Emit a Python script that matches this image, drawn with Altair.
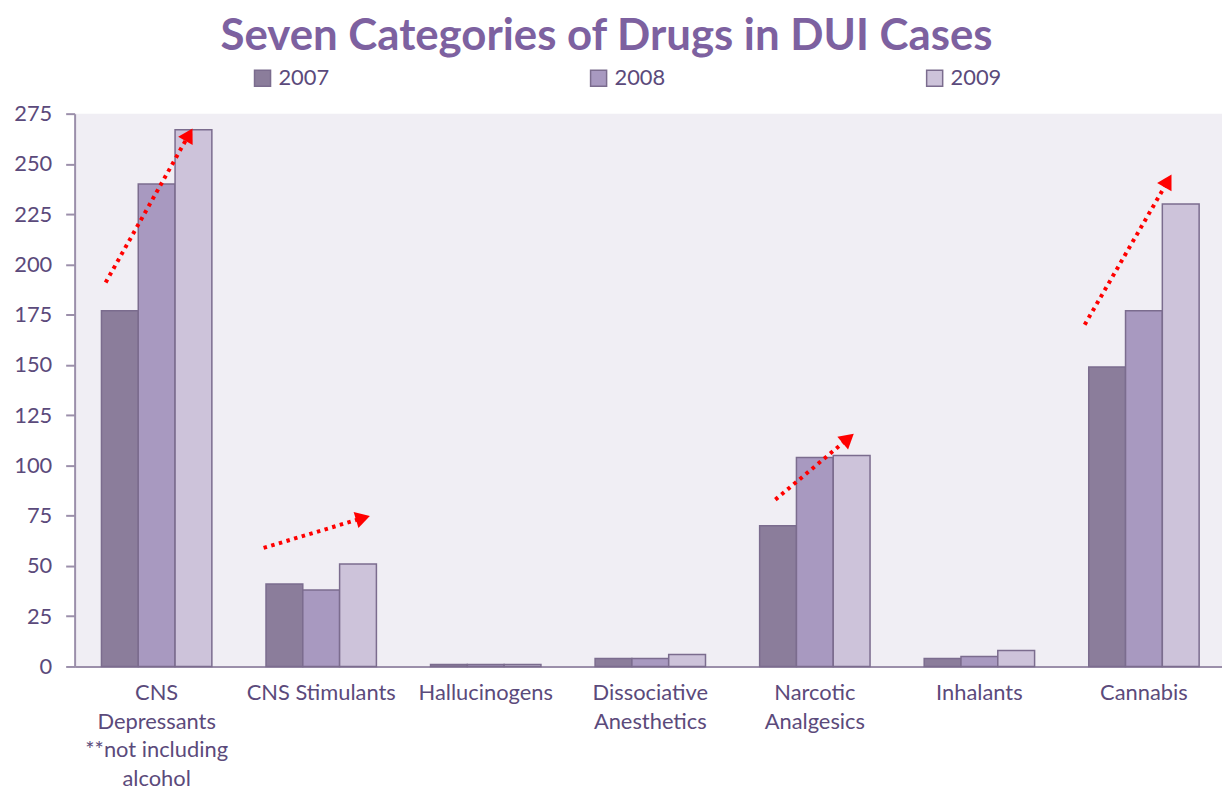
import math
import altair as alt
import pandas as pd

# ---------------- data ----------------
categories = ["CNS|Depressants|**not including|alcohol", "CNS Stimulants", "Hallucinogens",
              "Dissociative|Anesthetics", "Narcotic|Analgesics", "Inhalants", "Cannabis"]
years = ["2007", "2008", "2009"]
v2007 = [177, 41, 1, 4, 70, 4, 149]
v2008 = [240, 38, 1, 4, 104, 5, 177]
v2009 = [267, 51, 1, 6, 105, 8, 230]

# trend arrows (category index, value) start -> tip
arrow_x0 = [-0.31, 0.65, 3.76, 5.64]
arrow_y0 = [191, 59, 83, 170]
arrow_x1 = [0.22, 1.30, 4.24, 6.17]
arrow_y1 = [268, 75, 116, 245]

# ---------------- layout ----------------
W, H = 1154, 556
YMAX = 275
P_IN, P_OUT, ALIGN = 0.329, 0.151, 0.54
step = W / (7 - P_IN + 2 * P_OUT)
first_center = ALIGN * 2 * P_OUT * step + step * (1 - P_IN) / 2
x_lo = -first_center / step
x_hi = x_lo + W / step
px_x = step
px_y = H / YMAX

rows = []
for i, c in enumerate(categories):
    for y, vals in zip(years, [v2007, v2008, v2009]):
        rows.append({"cat": c, "year": y, "value": vals[i]})
bars_df = pd.DataFrame(rows)

line_rows, head_rows = [], []
for k in range(len(arrow_x0)):
    dxp = (arrow_x1[k] - arrow_x0[k]) * px_x
    dyp = (arrow_y1[k] - arrow_y0[k]) * px_y
    L = math.hypot(dxp, dyp)
    ux, uy = dxp / L, dyp / L
    hx = arrow_x1[k] - ux * 8 / px_x
    hy = arrow_y1[k] - uy * 8 / px_y
    bx = arrow_x1[k] - ux * 14 / px_x
    by = arrow_y1[k] - uy * 14 / px_y
    ang = math.degrees(math.atan2(dxp, dyp)) % 360
    line_rows.append({"id": k, "x": arrow_x0[k], "y": arrow_y0[k], "x2": bx, "y2": by})
    head_rows.append({"id": k, "x": hx, "y": hy, "angle": ang})
lines_df = pd.DataFrame(line_rows)
heads_df = pd.DataFrame(head_rows)

FONT = "Lato"
TXT = "#5B4A7B"
GRAY = "#9B8FAA"
colors = ["#8B7D9B", "#A899C0", "#CDC3DA"]

yscale = alt.Scale(domain=[0, YMAX], nice=False)

bars = alt.Chart(bars_df).mark_bar(stroke="#7B6C8E", strokeWidth=1.5).encode(
    x=alt.X("cat:N", sort=categories, title=None,
            scale=alt.Scale(paddingInner=P_IN, paddingOuter=P_OUT, align=ALIGN),
            axis=alt.Axis(labelExpr="split(datum.label, '|')", labelAngle=0,
                          labelFontSize=22, labelColor=TXT, labelFont=FONT,
                          labelLineHeight=29, labelPadding=16, ticks=False,
                          domainColor=GRAY, domainWidth=2, labelBaseline="top",
                          labelLimit=300)),
    xOffset=alt.XOffset("year:N", sort=years, scale=alt.Scale(paddingInner=0, paddingOuter=0)),
    y=alt.Y("value:Q", title=None, scale=yscale,
            axis=alt.Axis(values=list(range(0, 276, 25)), grid=False,
                          labelFontSize=22, labelColor=TXT, labelFont=FONT,
                          labelPadding=14, tickSize=9, tickColor=GRAY, tickWidth=2,
                          domainColor=GRAY, domainWidth=2)),
    color=alt.Color("year:N", sort=years,
                    scale=alt.Scale(domain=years, range=colors),
                    legend=alt.Legend(title=None, orient="none", legendX=178, legendY=-47,
                                      direction="horizontal", columns=3, columnPadding=258,
                                      symbolType="square", symbolSize=260,
                                      symbolStrokeColor="#7B6C8E", symbolStrokeWidth=1.5,
                                      labelFontSize=22, labelColor=TXT, labelFont=FONT,
                                      labelOffset=5)),
)

xq = alt.Scale(domain=[x_lo, x_hi], nice=False, zero=False)

arrow_lines = alt.Chart(lines_df).mark_rule(color="#FF0000", strokeWidth=4,
                                             strokeDash=[3.5, 4.5]).encode(
    x=alt.X("x:Q", scale=xq, axis=None),
    x2="x2:Q",
    y=alt.Y("y:Q", title=None, scale=yscale),
    y2="y2:Q",
)
arrow_heads = alt.Chart(heads_df).mark_point(shape="triangle-up", filled=True, opacity=1,
                                              color="#FF0000", size=280).encode(
    x=alt.X("x:Q", scale=xq, axis=None),
    y=alt.Y("y:Q", title=None, scale=yscale),
    angle=alt.Angle("angle:Q", scale=None),
)

chart = alt.layer(bars, arrow_lines, arrow_heads).resolve_scale(
    x="independent"
).properties(
    width=W, height=H,
    autosize=alt.AutoSizeParams(type="none"),
    padding={"left": 67, "top": 104, "right": 0, "bottom": 127},
    title=alt.TitleParams("Seven Categories of Drugs in DUI Cases", fontSize=44, font=FONT,
                          fontWeight="bold", color="#7D61A0", anchor="middle", dx=-42,
                          offset=8),
).configure(background="white").configure_view(fill="#F0EEF4", strokeWidth=0)

chart.save("out.html", embed_options={"renderer": "svg", "actions": False})
